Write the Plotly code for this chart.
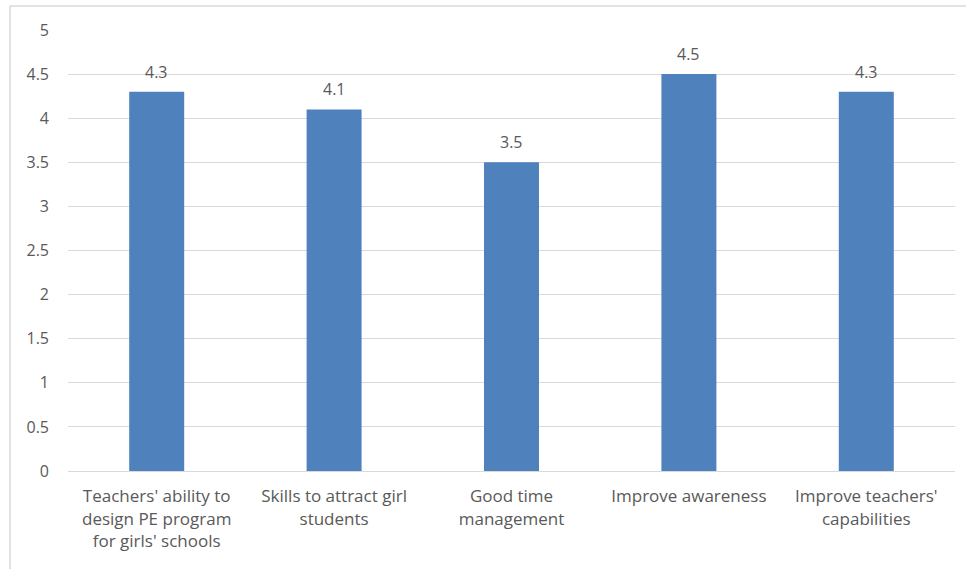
import plotly.graph_objects as go

categories = [
    "Teachers' ability to<br>design PE program<br>for girls' schools",
    "Skills to attract girl<br>students",
    "Good time<br>management",
    "Improve awareness",
    "Improve teachers'<br>capabilities",
]
values = [4.3, 4.1, 3.5, 4.5, 4.3]
value_labels = ["4.3", "4.1", "3.5", "4.5", "4.3"]
y_ticks = [0, 0.5, 1, 1.5, 2, 2.5, 3, 3.5, 4, 4.5, 5]
y_tick_labels = ["0", "0.5", "1", "1.5", "2", "2.5", "3", "3.5", "4", "4.5", "5"]

font_family = "Open Sans, Liberation Sans, sans-serif"
text_color = "#595959"

fig = go.Figure(
    go.Bar(
        x=categories,
        y=values,
        marker=dict(color="#4F81BD", line=dict(width=0)),
    )
)

annotations = [
    dict(
        x=c, y=v, text=t, xref="x", yref="y",
        showarrow=False, yanchor="bottom", yshift=7,
        font=dict(size=16, color=text_color, family=font_family),
    )
    for c, v, t in zip(categories, values, value_labels)
]

fig.update_layout(
    width=966,
    height=569,
    margin=dict(l=68, r=11, t=30, b=98),
    paper_bgcolor="white",
    plot_bgcolor="white",
    bargap=0.69,
    showlegend=False,
    font=dict(family=font_family, size=16, color=text_color),
    annotations=annotations,
    shapes=[
        dict(
            type="rect", xref="paper", yref="paper",
            x0=-58 / 887, x1=1 + 20 / 887,
            y0=-110 / 441, y1=1 + 24 / 441,
            line=dict(color="#d9d9d9", width=1.5),
            fillcolor="rgba(0,0,0,0)",
            layer="below",
        )
    ],
)

fig.update_yaxes(
    range=[0, 5],
    tickvals=y_ticks,
    ticktext=y_tick_labels,
    showgrid=True,
    gridcolor="#d9d9d9",
    gridwidth=1,
    zeroline=False,
    showline=False,
    ticks="",
    ticklabelstandoff=18,
    tickfont=dict(size=16, color=text_color),
)

fig.update_xaxes(
    showline=True,
    linecolor="#d9d9d9",
    linewidth=1,
    ticks="",
    tickfont=dict(size=17, color=text_color),
    ticklabelstandoff=10,
)

fig.write_html("out.html")
